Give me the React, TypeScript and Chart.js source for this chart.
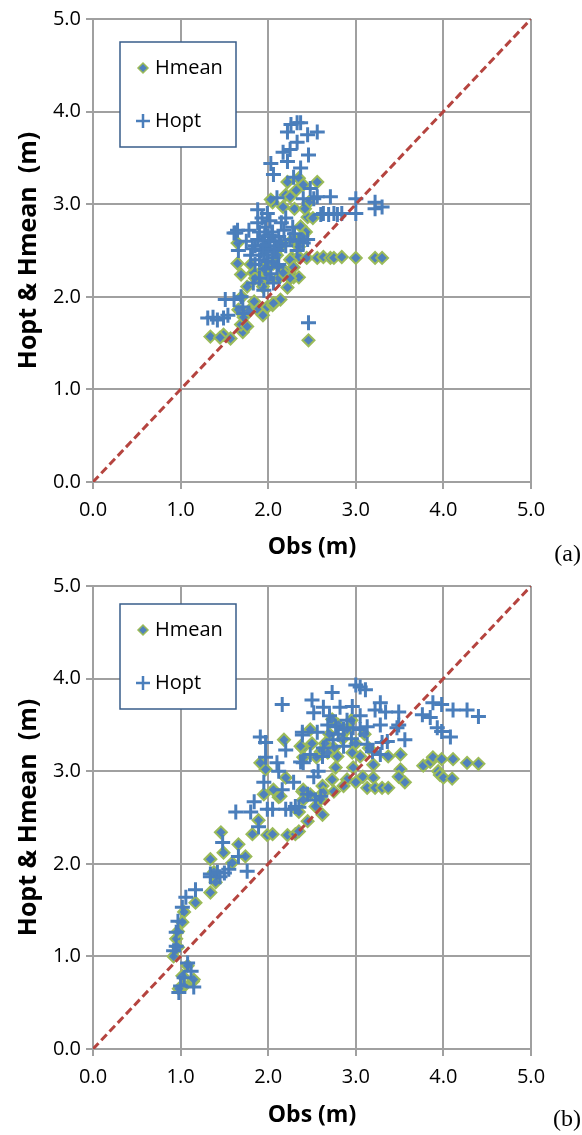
import React, { useEffect, useRef } from 'react';
import { Chart, registerables } from 'chart.js';

Chart.register(...registerables);

// ---------- data ----------
const TICK_VALUES = [0, 1, 2, 3, 4, 5];
const DIAG_X = [0, 5];
const DIAG_Y = [0, 5];
const SERIES_NAMES = ['Hmean', 'Hopt'];
const X_TITLE = 'Obs (m)';
const Y_TITLE = 'Hopt & Hmean  (m)';
const PANEL_TAGS = ['(a)', '(b)'];

// Panel (a)
const A_HMEAN_X = [
  2.22, 2.35, 2.40, 2.56, 2.20, 2.25, 2.05, 2.17, 2.45, 2.37,
  2.43, 2.27, 2.35, 2.44, 2.56, 2.63, 2.71, 2.75, 2.84, 3.00,
  3.22, 3.30, 2.46, 1.34, 1.49, 1.57, 1.71, 1.69, 1.76, 1.88,
  1.94, 1.99, 2.05, 2.14, 1.66, 1.72, 1.76, 1.65, 1.69, 1.65,
  1.83, 1.99, 2.06, 2.18, 2.25, 2.29, 2.12, 1.94, 1.91, 2.03,
  2.46, 2.51, 2.39, 2.35, 2.29, 2.35, 2.25, 2.06, 2.17, 2.30,
  2.28, 2.15, 2.10, 1.95, 1.85, 1.80, 2.00, 1.70, 1.45, 1.78,
  1.84, 2.22, 2.32, 2.42,
];
const A_HMEAN_Y = [
  3.24, 3.28, 3.21, 3.24, 3.10, 3.08, 3.02, 2.97, 2.86, 2.76,
  2.70, 2.42, 2.43, 2.42, 2.42, 2.43, 2.42, 2.42, 2.43, 2.42,
  2.42, 2.42, 1.53, 1.57, 1.59, 1.55, 1.62, 1.70, 1.68, 1.86,
  1.80, 1.89, 1.91, 1.97, 1.86, 1.78, 2.11, 2.36, 2.24, 2.58,
  2.26, 2.32, 2.36, 2.29, 2.40, 2.21, 2.20, 2.11, 2.18, 3.05,
  3.02, 2.85, 2.65, 2.54, 2.32, 2.21, 2.20, 1.93, 2.26, 2.95,
  2.62, 2.55, 2.45, 2.30, 2.20, 2.35, 2.20, 2.00, 1.56, 1.85,
  1.95, 2.10, 3.15, 2.95,
];
const A_HOPT_X = [
  2.26, 2.33, 2.37, 2.56, 2.22, 2.45, 2.33, 2.17, 2.25, 2.46,
  2.03, 2.22, 2.06, 2.37, 2.29, 2.10, 2.48, 2.56, 2.71, 2.63,
  2.75, 1.88, 1.65, 1.63, 2.60, 2.69, 2.79, 2.84, 3.00, 3.22,
  3.30, 3.00, 3.22, 2.52, 2.40, 2.46, 1.31, 1.37, 1.42, 1.49,
  1.54, 1.51, 1.61, 1.69, 1.71, 1.72, 1.61, 1.66, 1.99, 1.83,
  1.95, 2.06, 2.10, 1.80, 1.85, 1.88, 1.90, 1.92, 1.95, 1.97,
  2.00, 2.02, 2.05, 2.08, 2.10, 2.12, 2.15, 2.18, 2.20, 2.25,
  2.30, 2.35, 1.85, 1.90, 1.95, 2.00, 2.05, 1.88, 1.93, 2.02,
  1.75, 1.78, 1.82, 1.98, 2.40, 2.15, 2.45, 1.97, 2.03, 1.90,
  2.12, 2.20, 2.28, 2.33, 1.96, 2.01, 1.99, 2.04, 1.94, 2.07,
];
const A_HOPT_Y = [
  3.86, 3.88, 3.88, 3.78, 3.78, 3.75, 3.67, 3.56, 3.59, 3.53,
  3.44, 3.46, 3.32, 3.39, 3.29, 3.07, 3.17, 3.08, 3.08, 2.90,
  2.90, 2.94, 2.72, 2.69, 2.89, 2.89, 2.89, 2.90, 2.90, 2.95,
  2.97, 3.06, 3.02, 3.06, 3.06, 1.72, 1.77, 1.78, 1.75, 1.77,
  1.80, 1.97, 1.97, 2.00, 1.89, 1.82, 2.69, 2.50, 2.90, 2.15,
  2.07, 2.15, 2.32, 2.45, 2.55, 2.62, 2.70, 2.50, 2.60, 2.75,
  2.65, 2.55, 2.70, 2.60, 2.50, 2.65, 2.58, 2.72, 2.55, 2.62,
  2.68, 2.60, 2.35, 2.40, 2.45, 2.38, 2.42, 2.80, 2.85, 2.82,
  2.60, 2.72, 2.52, 2.52, 2.58, 2.80, 2.62, 2.30, 2.25, 2.20,
  2.35, 2.85, 2.75, 2.50, 2.66, 2.61, 2.48, 2.66, 2.56, 2.52,
];

// Panel (b)
const B_HMEAN_X = [
  0.95, 0.97, 0.97, 0.92, 1.04, 1.17, 1.34, 1.02, 1.14, 1.04,
  0.98, 1.08, 1.15, 1.46, 1.66, 1.49, 1.74, 1.34, 1.59, 1.82,
  1.89, 1.99, 2.05, 2.22, 2.31, 2.35, 2.45, 1.95, 2.12, 2.06,
  2.39, 2.20, 1.97, 1.91, 2.18, 2.39, 2.40, 1.02, 1.38, 1.40,
  2.37, 2.48, 2.60, 2.73, 2.79, 2.96, 3.05, 3.20, 3.37, 3.51,
  2.77, 2.97, 3.08, 3.20, 2.90, 2.73, 3.00, 2.86, 3.13, 3.22,
  3.30, 3.37, 3.56, 3.51, 3.49, 3.77, 3.85, 3.88, 3.98, 4.11,
  4.27, 4.40, 3.94, 3.96, 4.00, 4.10, 2.40, 2.48, 2.62, 2.63,
  2.40, 2.54, 2.62, 2.35, 2.65, 2.70, 2.75, 2.80, 2.85, 2.90,
  2.55, 2.68, 3.00, 3.10, 2.95, 3.15, 2.50, 2.75, 2.60, 2.14,
];
const B_HMEAN_Y = [
  1.19, 1.27, 1.10, 1.00, 1.48, 1.58, 1.69, 0.79, 0.73, 0.68,
  0.65, 0.90, 0.75, 2.34, 2.21, 2.12, 2.08, 2.05, 2.01, 2.32,
  2.47, 2.31, 2.32, 2.31, 2.32, 2.35, 2.46, 2.75, 2.72, 2.80,
  2.78, 2.93, 3.02, 3.09, 3.34, 3.25, 3.15, 1.37, 1.91, 1.80,
  3.27, 3.45, 3.21, 3.56, 3.16, 3.20, 3.16, 3.07, 3.16, 3.18,
  3.04, 3.04, 2.94, 2.93, 2.91, 2.91, 2.88, 2.84, 2.82, 2.82,
  2.82, 2.82, 2.88, 3.02, 2.94, 3.06, 3.10, 3.15, 3.13, 3.13,
  3.09, 3.08, 3.00, 2.96, 2.93, 2.92, 2.80, 2.75, 2.84, 2.77,
  2.69, 2.62, 2.53, 2.56, 3.30, 3.40, 3.25, 3.50, 3.35, 3.45,
  3.15, 3.20, 3.30, 3.40, 3.55, 3.25, 3.30, 2.78, 2.70, 2.73,
];
const B_HOPT_X = [
  0.98, 1.00, 1.12, 1.08, 1.15, 1.04, 0.95, 0.95, 0.97, 1.02,
  1.06, 1.17, 1.34, 0.92, 1.91, 1.97, 2.20, 1.97, 2.10, 2.12,
  1.95, 2.29, 2.16, 1.84, 1.63, 1.80, 1.99, 2.05, 2.20, 2.26,
  2.35, 1.89, 1.48, 1.66, 1.76, 1.55, 1.42, 1.34, 2.39, 2.40,
  2.16, 1.45, 1.50, 3.00, 3.05, 3.11, 2.73, 2.50, 3.28, 3.88,
  3.98, 4.11, 4.27, 4.40, 3.76, 3.85, 3.49, 3.34, 3.22, 2.96,
  2.82, 2.63, 2.52, 3.93, 3.98, 4.08, 3.49, 3.47, 3.28, 3.13,
  2.97, 2.86, 2.77, 2.56, 2.39, 3.56, 3.36, 3.30, 3.13, 2.86,
  2.74, 2.63, 3.19, 3.28, 2.48, 2.62, 2.37, 2.57, 2.52, 2.45,
  2.60, 2.54, 2.31, 2.70, 2.90, 3.05, 2.80, 2.95, 3.05, 2.68,
];
const B_HOPT_Y = [
  0.61, 0.68, 0.84, 0.93, 0.67, 0.77, 1.11, 1.26, 1.38, 1.53,
  1.64, 1.72, 1.86, 1.06, 3.37, 3.31, 3.23, 3.15, 3.09, 3.00,
  2.88, 2.88, 2.80, 2.67, 2.56, 2.56, 2.59, 2.59, 2.59, 2.59,
  2.61, 2.40, 2.23, 2.08, 1.92, 1.94, 1.91, 1.89, 3.39, 3.09,
  3.72, 1.86, 1.90, 3.93, 3.91, 3.88, 3.85, 3.77, 3.74, 3.74,
  3.72, 3.66, 3.66, 3.59, 3.61, 3.58, 3.64, 3.64, 3.66, 3.70,
  3.69, 3.69, 3.63, 3.47, 3.43, 3.37, 3.50, 3.47, 3.50, 3.48,
  3.47, 3.45, 3.48, 3.42, 3.42, 3.34, 3.32, 3.31, 3.29, 3.27,
  3.34, 3.25, 3.21, 3.18, 3.18, 3.16, 3.10, 3.00, 2.94, 2.75,
  2.73, 2.69, 2.62, 3.60, 3.55, 3.60, 3.40, 3.35, 3.45, 3.50,
];

// ---------- styles ----------
const FONT = "'Open Sans', 'DejaVu Sans', sans-serif";
const GRID = '#A0A0A0';
const HOPT_BLUE = '#4A7EBB';
const HMEAN_FILL = '#4F81BD';
const HMEAN_EDGE = '#9BBB59';
const DIAG_RED = '#B5443F';
const LEGEND_EDGE = '#385D8A';

const W = 582;

function pts(xs: number[], ys: number[]) {
  const n = Math.min(xs.length, ys.length);
  const out: { x: number; y: number }[] = [];
  for (let i = 0; i < n; i++) out.push({ x: xs[i], y: ys[i] });
  return out;
}

type PanelProps = {
  hmX: number[]; hmY: number[]; hoX: number[]; hoY: number[];
  tag: string; height: number; legendTop: number; tagY: number;
};

function Panel({ hmX, hmY, hoX, hoY, tag, height, legendTop, tagY }: PanelProps) {
  const ref = useRef<HTMLCanvasElement | null>(null);
  useEffect(() => {
    const overlay = {
      id: 'overlay',
      afterDraw(chart: any) {
        const ctx = chart.ctx as CanvasRenderingContext2D;
        ctx.save();
        // legend box
        const bx = 120, by = legendTop, bw = 116, bh = 105;
        ctx.fillStyle = '#fff';
        ctx.fillRect(bx, by, bw, bh);
        ctx.strokeStyle = LEGEND_EDGE;
        ctx.lineWidth = 1.5;
        ctx.strokeRect(bx, by, bw, bh);
        // Hmean marker
        const y1 = by + 26, y2 = by + 79, mx = 143;
        ctx.beginPath();
        ctx.moveTo(mx - 5, y1); ctx.lineTo(mx, y1 - 5); ctx.lineTo(mx + 5, y1); ctx.lineTo(mx, y1 + 5);
        ctx.closePath();
        ctx.fillStyle = HMEAN_FILL; ctx.fill();
        ctx.strokeStyle = HMEAN_EDGE; ctx.lineWidth = 1.5; ctx.stroke();
        // Hopt marker
        ctx.beginPath();
        ctx.moveTo(mx - 7, y2); ctx.lineTo(mx + 7, y2);
        ctx.moveTo(mx, y2 - 7); ctx.lineTo(mx, y2 + 7);
        ctx.strokeStyle = HOPT_BLUE; ctx.lineWidth = 2.5; ctx.stroke();
        ctx.fillStyle = '#000';
        ctx.font = `20px ${FONT}`;
        ctx.textAlign = 'left';
        ctx.textBaseline = 'middle';
        ctx.fillText(SERIES_NAMES[0], 155, y1);
        ctx.fillText(SERIES_NAMES[1], 155, y2);
        // panel tag
        ctx.font = "24px 'Liberation Serif', 'DejaVu Serif', serif";
        ctx.textAlign = 'right';
        ctx.fillText(tag, 581, tagY);
        ctx.restore();
      },
    };

    const axisCommon = {
      type: 'linear' as const,
      min: 0,
      max: 5,
      afterBuildTicks: (s: any) => { s.ticks = TICK_VALUES.map((v) => ({ value: v })); },
      grid: { color: GRID, lineWidth: 2, tickLength: 7, drawTicks: true, tickColor: GRID },
      border: { color: GRID, width: 2 },
    };

    const chart = new Chart(ref.current as HTMLCanvasElement, {
      type: 'scatter',
      data: {
        datasets: [
          {
            label: 'diag',
            type: 'line',
            data: pts(DIAG_X, DIAG_Y),
            borderColor: DIAG_RED,
            borderWidth: 3,
            borderDash: [8, 4],
            pointRadius: 0,
            fill: false,
            order: 0,
          } as any,
          {
            label: SERIES_NAMES[1],
            data: pts(hoX, hoY),
            pointStyle: 'cross',
            pointRadius: 7.5,
            pointBorderWidth: 3,
            pointBorderColor: HOPT_BLUE,
            pointBackgroundColor: HOPT_BLUE,
            order: 1,
          },
          {
            label: SERIES_NAMES[0],
            data: pts(hmX, hmY),
            pointStyle: 'rectRot',
            pointRadius: 6,
            pointBorderWidth: 2,
            pointBorderColor: HMEAN_EDGE,
            pointBackgroundColor: HMEAN_FILL,
            order: 2,
          },
        ],
      },
      options: {
        responsive: false,
        animation: false,
        events: [],
        layout: { padding: { left: 0, right: 51, top: 19, bottom: 0 } },
        plugins: { legend: { display: false }, tooltip: { enabled: false } },
        scales: {
          x: {
            ...axisCommon,
            position: 'bottom',
            ticks: {
              color: '#000',
              font: { family: FONT, size: 20 },
              padding: 9,
              maxRotation: 0,
              callback: (v: any) => Number(v).toFixed(1),
            },
            title: {
              display: true,
              text: X_TITLE,
              color: '#000',
              font: { family: FONT, size: 23, weight: 'bold' },
              padding: { top: 0, bottom: 6 },
            },
            afterFit: (s: any) => { s.height = height - 19 - 463; },
          } as any,
          y: {
            ...axisCommon,
            position: 'left',
            ticks: {
              color: '#000',
              font: { family: FONT, size: 20 },
              padding: 5,
              callback: (v: any) => Number(v).toFixed(1),
            },
            title: {
              display: true,
              text: Y_TITLE,
              color: '#000',
              font: { family: FONT, size: 25, weight: 'bold' },
              padding: { top: 14, bottom: 0 },
            },
            afterFit: (s: any) => { s.width = 93; },
          } as any,
        },
      },
      plugins: [overlay],
    } as any);
    return () => chart.destroy();
  }, []);
  return <canvas ref={ref} width={W} height={height} style={{ display: 'block' }} />;
}

export default function App() {
  return (
    <div style={{ position: 'absolute', left: 0, top: 0, width: W, height: 1135, background: '#fff' }}>
      <Panel hmX={A_HMEAN_X} hmY={A_HMEAN_Y} hoX={A_HOPT_X} hoY={A_HOPT_Y}
        tag={PANEL_TAGS[0]} height={567} legendTop={42} tagY={555} />
      <Panel hmX={B_HMEAN_X} hmY={B_HMEAN_Y} hoX={B_HOPT_X} hoY={B_HOPT_Y}
        tag={PANEL_TAGS[1]} height={568} legendTop={37} tagY={553} />
    </div>
  );
}
